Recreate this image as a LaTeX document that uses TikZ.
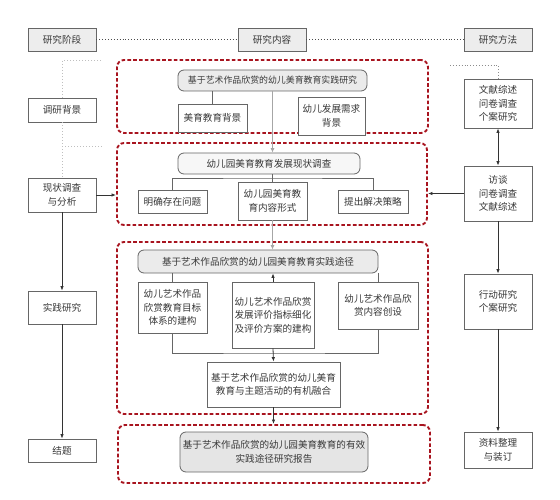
\documentclass[tikz,border=0pt]{standalone}
\usepackage{fontspec}
\setmainfont{Noto Sans CJK SC}
\usepackage{xcolor}
\definecolor{frame}{rgb}{0.66,0.08,0.12}
\definecolor{boxline}{rgb}{0.40,0.40,0.40}
\definecolor{textgray}{rgb}{0.22,0.22,0.22}
\definecolor{headfill}{rgb}{0.93,0.93,0.93}
\usetikzlibrary{arrows.meta}
\usetikzlibrary{calc}
\tikzset{
	plainbox/.style={draw=boxline, fill=white, line width=0.8pt, inner sep=0pt, align=center, text=textgray},
	headbox/.style={plainbox, fill=headfill, minimum width=68, minimum height=23},
	sidebox/.style={plainbox, minimum width=68},
	titlebox/.style={plainbox, rounded corners=6pt, fill=black!8},
	redframe/.style={draw=frame, line width=1.9pt, dash pattern=on 3.6pt off 2.2pt, rounded corners=7pt, inner sep=0pt},
	dotline/.style={draw=black!70, dotted, line width=0.9pt},
	faintdot/.style={draw=black!25, dotted, line width=1pt},
	link/.style={draw=boxline, line width=0.8pt},
	arrowline/.style={draw=black!80, line width=0.8pt, -{Latex[length=4.5pt,width=3.5pt]}},
	grayarrow/.style={draw=black!35, line width=0.8pt, -{Latex[length=4.5pt,width=4pt]}}
}

\begin{document}
\begin{tikzpicture}[x=1pt, y=-1pt, font=\fontsize{9.6}{13.5}\selectfont]
	\useasboundingbox (0,0) rectangle (560,500);
	
	% header
	\node[headbox] (stage) at (62,39.5) {研究阶段};
	\node[headbox] (content) at (272,39.5) {研究内容};
	\node[headbox] (method) at (498,39.5) {研究方法};
	\draw[dotline] (stage) -- (content);
	\draw[dotline] (content) -- (method);
	
	% red frames
	\node[redframe, minimum width=311, minimum height=73] (frameA) at (272.5,96.5) {};
	\node[redframe, minimum width=310, minimum height=82] (frameB) at (272,184) {};
	\node[redframe, minimum width=311, minimum height=172] (frameC) at (272.5,328) {};
	\node[redframe, minimum width=312, minimum height=58] (frameD) at (274,454) {};
	
	% stage column
	\node[sidebox, minimum height=24] (bg) at (62,110) {调研背景};
	\node[sidebox, minimum height=34] (survey) at (62,195) {现状调查\\与分析};
	\node[sidebox, minimum height=33] (practice) at (62,307.5) {实践研究};
	\node[sidebox, minimum height=23] (finish) at (62,450.5) {结题};
	
	\coordinate (bgtop) at (62,61);
	\coordinate (bgtopr) at (101,61);
	\coordinate (bgmid) at (62,147);
	\coordinate (bgmidr) at (103,147);
	\draw[faintdot] (bgtopr) -- (bgtop) -- (bg.north);
	\draw[faintdot] (bg.south) -- (survey.north);
	\draw[faintdot] (bgmid) -- (bgmidr);
	
	\draw[arrowline] (survey.east) -- (survey.east -| frameB.west);
	\draw[arrowline] (survey.south) -- (practice.north);
	\draw[arrowline] (practice.south) -- (finish.north);
	
	% method column
	\node[sidebox, minimum height=49] (lit) at (498,103.5) {文献综述\\问卷调查\\个案研究};
	\node[sidebox, minimum height=55] (interview) at (498,193.5) {访谈\\问卷调查\\文献综述};
	\node[sidebox, minimum height=55] (action) at (498,301.5) {行动研究\\个案研究};
	\node[sidebox, minimum height=36] (sort) at (498,450) {资料整理\\与装订};
	
	\coordinate (litdot) at (450,65);
	\draw[dotline, draw=black!45] (litdot) -| (lit.north);
	\draw[arrowline, {Latex[length=4.5pt,width=3.5pt]}-{Latex[length=4.5pt,width=3.5pt]}] (lit.south) -- (interview.north);
	\draw[arrowline] (interview.west) -- (interview.west -| frameB.east);
	\draw[arrowline] (interview.south) -- (action.north);
	\draw[arrowline] (action.south) -- (sort.north);
	
	% frame A
	\node[titlebox, font=\fontsize{8.9}{13}\selectfont, minimum width=189, minimum height=21] (titleA) at (272.5,80.5) {基于艺术作品欣赏的幼儿美育教育实践研究};
	\node[plainbox, minimum width=69, minimum height=28] (artbg) at (212.5,118) {美育教育背景};
	\node[plainbox, minimum width=67, minimum height=38] (needbg) at (331.5,116) {幼儿发展需求\\背景};
	\draw[link] (artbg.north |- titleA.south) -- (artbg.north);
	
	% frame B
	\node[titlebox, fill=black!3, minimum width=182, minimum height=21] (titleB) at (269,163.5) {幼儿园美育教育发展现状调查};
	\node[plainbox, minimum width=69, minimum height=23] (problem) at (172.5,201.5) {明确存在问题};
	\node[plainbox, minimum width=69, minimum height=38] (form) at (272.5,201) {幼儿园美育教\\育内容形式};
	\node[plainbox, minimum width=70, minimum height=23] (strategy) at (373,201.5) {提出解决策略};
	\coordinate (joinB) at (272.5,178);
	\draw[link] (problem.north) |- (joinB) -| (strategy.north);
	\draw[link] (form.north |- titleB.south) -- (form.north);
	\draw[grayarrow] (titleA.south) -- (titleA.south |- titleB.north);
	
	% frame C
	\node[titlebox, minimum width=240, minimum height=23] (titleC) at (258,261.5) {基于艺术作品欣赏的幼儿园美育教育实践途径};
	\node[plainbox, minimum width=69, minimum height=51] (goal) at (172.5,307.5) {幼儿艺术作品\\欣赏教育目标\\体系的建构};
	\node[plainbox, minimum width=82, minimum height=66] (assess) at (273,315) {幼儿艺术作品欣赏\\发展评价指标细化\\及评价方案的建构};
	\node[plainbox, minimum width=80, minimum height=47] (create) at (378,305.5) {幼儿艺术作品欣\\赏内容创设};
	\node[plainbox, minimum width=133, minimum height=45] (merge) at (273.5,384.5) {基于艺术作品欣赏的幼儿美育\\教育与主题活动的有机融合};
	\draw[grayarrow] (form.south) -- (form.south |- titleC.north);
	\draw[link] (goal.north |- titleC.south) -- (goal.north);
	\draw[link] (create.north |- titleC.south) -- (create.north);
	\draw[arrowline] (assess.north) -- (assess.north |- titleC.south);
	\coordinate (joinC) at (273,353);
	\draw[link] (goal.south) |- (joinC) -| (create.south);
	\draw[arrowline] (assess.south) -- (merge.north);
	
	% frame D
	\node[titlebox, fill=black!10, minimum width=188, minimum height=40] (report) at (274,452) {基于艺术作品欣赏的幼儿园美育教育的有效\\实践途径研究报告};
	\draw[arrowline] (merge.south) -- (merge.south |- frameD.north);
	
\end{tikzpicture}
\end{document}
